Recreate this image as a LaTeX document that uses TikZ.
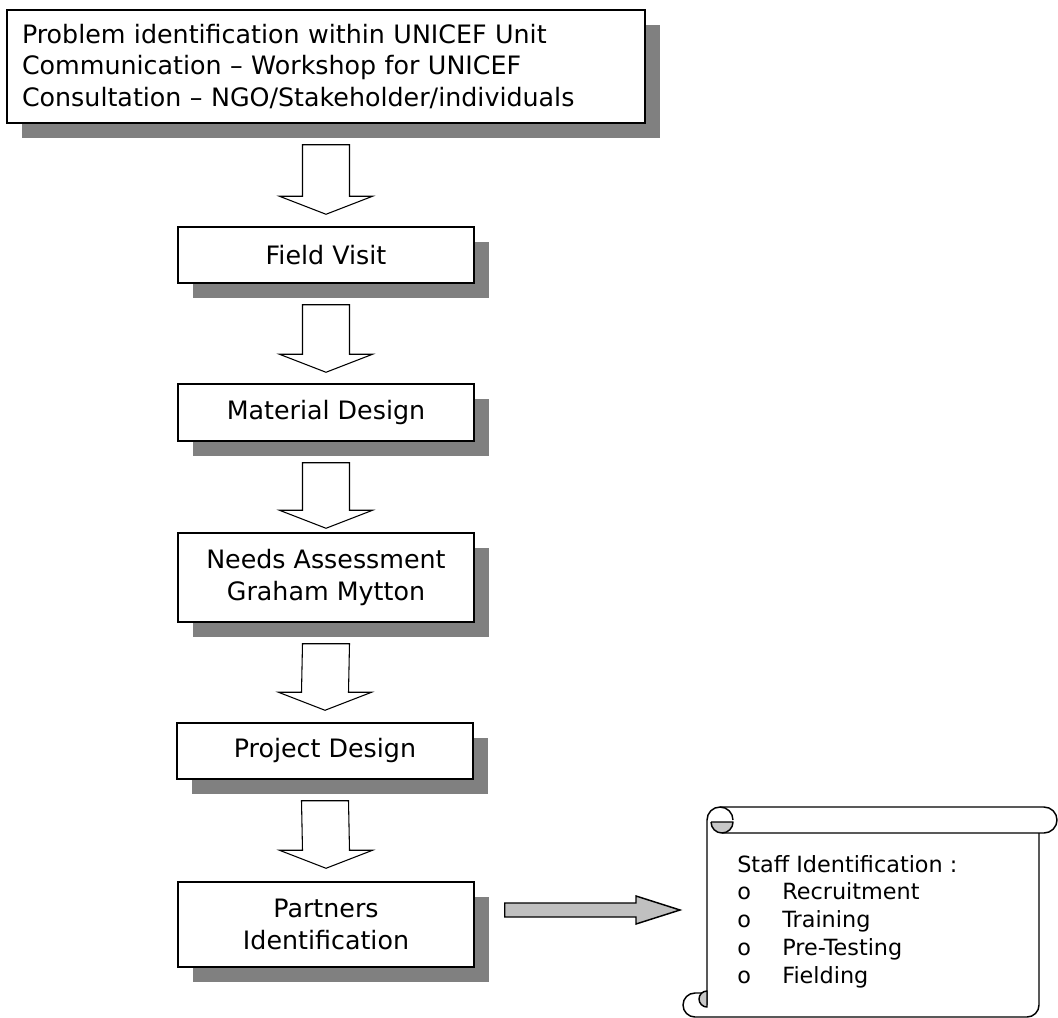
\documentclass[tikz,border=0pt]{standalone}
\usepackage{fontspec}
\setmainfont{DejaVu Sans}
\usetikzlibrary{shadows,calc}
\definecolor{shadowgray}{HTML}{808080}
\definecolor{arrowgray}{HTML}{C0C0C0}
\definecolor{curlgray}{HTML}{C8C8C8}
\tikzset{
  stagebox/.style={draw, line width=1.1pt, fill=white, minimum width=222pt, align=center,
    font=\fontsize{19}{23.5}\selectfont,
    drop shadow={shadow xshift=11.6pt, shadow yshift=-10.9pt, fill=shadowgray, opacity=1}},
  hollowarrow/.style={draw, line width=0.8pt, fill=white, line join=miter},
  grayarrow/.style={draw, line width=1.1pt, fill=arrowgray, line join=miter},
  scrollline/.style={line width=1.1pt, line join=round},
}
% hollow block arrow between two stages, tip #3 px above the lower box
\newcommand{\flowarrow}[3]{%
  \draw[hollowarrow] ($(#1.south)+(-23.5,21)$) -- ($(#2.north)+(-23.5,-18-#3)$)
    -- ($(#2.north)+(-46.5,-18-#3)$) -- ($(#2.north)+(0,-#3)$)
    -- ($(#2.north)+(46.5,-18-#3)$) -- ($(#2.north)+(23.5,-18-#3)$)
    -- ($(#1.south)+(23.5,21)$) -- cycle;}
\begin{document}
\begin{tikzpicture}[x=0.75pt,y=-0.75pt]
\useasboundingbox (0,0) rectangle (1058,1018);

% stages
\node[stagebox, text width=456pt, align=left, inner xsep=11.25pt, minimum height=84.75pt]
  (problem) at (326,66.5) {Problem identification within UNICEF Unit\\
  Communication – Workshop for UNICEF\\Consultation – NGO/Stakeholder/individuals};
\node[stagebox, minimum height=42pt] (visit) at (326,255) {Field Visit};
\node[stagebox, minimum height=42.75pt] (material) at (326,412.5) {Material Design};
\node[stagebox, minimum height=66.75pt, font=\fontsize{19}{24.5}\selectfont] (needs) at (326,577.5) {Needs Assessment\\Graham Mytton};
\node[stagebox, minimum height=42pt] (project) at (325,751) {Project Design};
\node[stagebox, minimum height=63.75pt, font=\fontsize{19}{24}\selectfont] (partners) at (326,924.5) {Partners\\Identification};

\flowarrow{problem}{visit}{12}
\flowarrow{visit}{material}{11}
\flowarrow{material}{needs}{4}
\flowarrow{needs}{project}{12}
\flowarrow{project}{partners}{13}

% scroll
\draw[scrollline] (707,1005) -- (707,820) arc[start angle=180, end angle=360, radius=13];
\draw[scrollline] (720,807) -- (1044,807) arc[start angle=-90, end angle=90, radius=13] -- (722,833);
\filldraw[scrollline, fill=curlgray] (711,822) -- (733,822) arc[start angle=0, end angle=180, radius=11];
\draw[scrollline] (1039,833) -- (1039,1005) arc[start angle=0, end angle=90, radius=12]
  -- (695,1017) arc[start angle=90, end angle=270, radius=12] -- (707,993);
\filldraw[scrollline, fill=curlgray] (707,991) arc[start angle=270, end angle=90, radius=8] -- cycle;
\node[anchor=north west, inner sep=0pt, align=left, font=\fontsize{16.75}{20.8}\selectfont]
  (staff) at (737,855) {Staff Identification :\\
  \makebox[33.75pt][l]{o}Recruitment\\
  \makebox[33.75pt][l]{o}Training\\
  \makebox[33.75pt][l]{o}Pre-Testing\\
  \makebox[33.75pt][l]{o}Fielding};

% link to the scroll
\coordinate (gtail) at ($(partners.east)+(30,-14.5)$);
\coordinate (gtip) at (680,910);
\draw[grayarrow] ($(gtail)+(0,-7)$) -- ($(gtip)+(-44,-7)$) -- ($(gtip)+(-44,-14)$) -- (gtip)
  -- ($(gtip)+(-44,14)$) -- ($(gtip)+(-44,7)$) -- ($(gtail)+(0,7)$) -- cycle;
\end{tikzpicture}
\end{document}
